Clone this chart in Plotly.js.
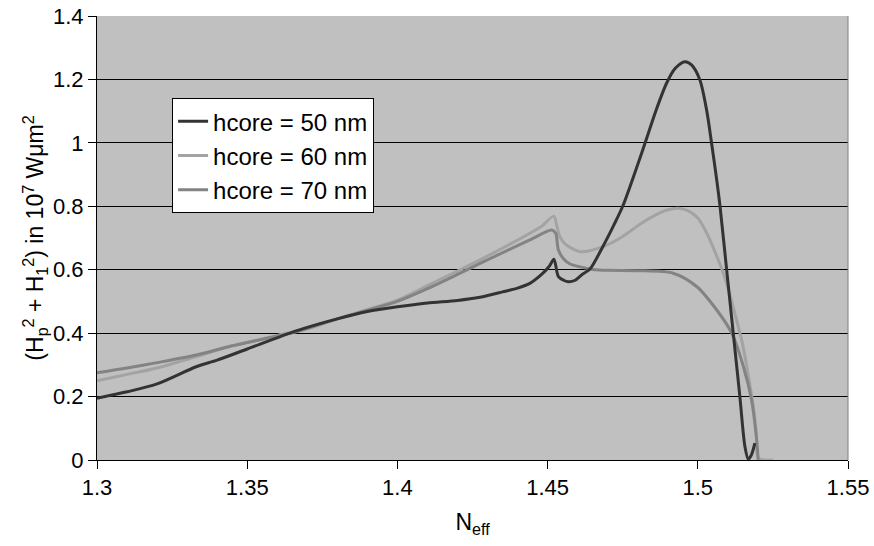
<!DOCTYPE html>
<html>
<head>
<meta charset="utf-8">
<script src="https://cdn.plot.ly/plotly-3.0.1.min.js"></script>
<style>html,body{margin:0;padding:0;background:#fff;}#chart{width:874px;height:546px;}</style>
</head>
<body>
<div id="chart"></div>
<script>
// hcore = 50 nm
const neff50 = [1.300,1.310,1.320,1.333,1.340,1.350,1.3666,1.380,1.390,1.400,1.410,1.420,1.4275,1.435,1.440,1.4441,1.448,1.4505,1.4521,1.4536,1.4555,1.4569,1.459,1.4615,1.4641,1.4685,1.472,1.475,1.4824,1.486,1.4896,1.4925,1.4957,1.498,1.5007,1.503,1.5046,1.5063,1.5074,1.5096,1.5118,1.514,1.5157,1.5168,1.5178,1.519];
const val50  = [0.195,0.215,0.240,0.294,0.315,0.350,0.408,0.445,0.468,0.483,0.495,0.503,0.513,0.530,0.542,0.557,0.585,0.610,0.633,0.578,0.566,0.562,0.566,0.585,0.602,0.675,0.740,0.800,0.998,1.100,1.188,1.235,1.256,1.245,1.198,1.100,0.998,0.883,0.800,0.600,0.400,0.200,0.042,0.003,0.015,0.053];
// hcore = 60 nm
const neff60 = [1.300,1.310,1.320,1.333,1.345,1.3666,1.380,1.390,1.400,1.410,1.420,1.4275,1.4441,1.448,1.4521,1.4530,1.4541,1.456,1.4608,1.4685,1.475,1.481,1.486,1.490,1.4935,1.497,1.500,1.503,1.506,1.5085,1.511,1.5129,1.5148,1.5163,1.5185,1.5195,1.5202,1.525];
const val60  = [0.250,0.270,0.290,0.326,0.360,0.408,0.445,0.474,0.504,0.550,0.596,0.631,0.715,0.737,0.769,0.741,0.704,0.680,0.657,0.673,0.705,0.745,0.773,0.789,0.794,0.785,0.763,0.715,0.650,0.589,0.510,0.441,0.370,0.294,0.168,0.080,0.005,0.000];
// hcore = 70 nm
const neff70 = [1.300,1.310,1.320,1.333,1.345,1.3666,1.380,1.390,1.400,1.410,1.420,1.4275,1.4441,1.4514,1.4527,1.4536,1.4555,1.4575,1.4608,1.465,1.470,1.480,1.4918,1.4996,1.5063,1.5113,1.5152,1.5179,1.5196,1.5201];
const val70  = [0.275,0.290,0.307,0.331,0.360,0.405,0.445,0.472,0.500,0.540,0.585,0.620,0.694,0.725,0.715,0.662,0.632,0.618,0.609,0.601,0.598,0.597,0.589,0.547,0.473,0.400,0.294,0.189,0.063,0.000];

const seriesNames = ['hcore = 50 nm','hcore = 60 nm','hcore = 70 nm'];
const xTicks = [1.3,1.35,1.4,1.45,1.5,1.55];
const yTicks = [0,0.2,0.4,0.6,0.8,1,1.2,1.4];

const FONT = 'Arial, "Liberation Sans", sans-serif';
const LINE = {shape: 'spline', smoothing: 0.8, width: 3};

const traces = [
  {x: neff60, y: val60, name: seriesNames[1], legendrank: 2, legendgroup: 'b', mode: 'lines', line: Object.assign({color: '#a3a3a3'}, LINE)},
  {x: neff70, y: val70, name: seriesNames[2], legendrank: 3, legendgroup: 'c', mode: 'lines', line: Object.assign({color: '#838383'}, LINE)},
  {x: neff50, y: val50, name: seriesNames[0], legendrank: 1, legendgroup: 'a', mode: 'lines', line: Object.assign({color: '#333333'}, LINE)}
];

const layout = {
  width: 874, height: 546,
  margin: {l: 97, r: 26, t: 16, b: 86},
  paper_bgcolor: '#ffffff',
  plot_bgcolor: '#c0c0c0',
  font: {family: FONT, size: 22, color: '#000'},
  showlegend: true,
  legend: {
    x: 0.1, y: 0.815, xanchor: 'left', yanchor: 'top',
    bgcolor: '#ffffff', bordercolor: '#000', borderwidth: 1,
    font: {family: FONT, size: 24, color: '#000'},
    traceorder: 'grouped', tracegroupgap: 0
  },
  xaxis: {
    range: [1.3, 1.55], tickvals: xTicks, ticktext: xTicks.map(String),
    showgrid: false, zeroline: false,
    showline: true, linecolor: '#000', linewidth: 1,
    ticks: 'outside', ticklen: 8, tickcolor: '#000',
    tickfont: {family: FONT, size: 22},
    title: {text: 'N<sub>eff</sub>', font: {family: FONT, size: 23}, standoff: 14}
  },
  yaxis: {
    range: [0, 1.4], tickvals: yTicks, ticktext: yTicks.map(String),
    showgrid: true, gridcolor: '#000', gridwidth: 1, zeroline: false,
    showline: true, linecolor: '#000', linewidth: 1,
    ticks: 'outside', ticklen: 8, tickcolor: '#000',
    tickfont: {family: FONT, size: 22},
    title: {text: '(H<sub>p</sub><sup>2</sup> + H<sub>1</sub><sup>2</sup>) in 10<sup>7</sup> Wμm<sup>2</sup>', font: {family: FONT, size: 23}, standoff: 2}
  },
  shapes: [
    {type: 'line', xref: 'paper', yref: 'paper', x0: 1, x1: 1, y0: 0, y1: 1, line: {color: '#808080', width: 1}}
  ]
};

Plotly.newPlot('chart', traces, layout, {displayModeBar: false, staticPlot: true});
</script>
</body>
</html>
